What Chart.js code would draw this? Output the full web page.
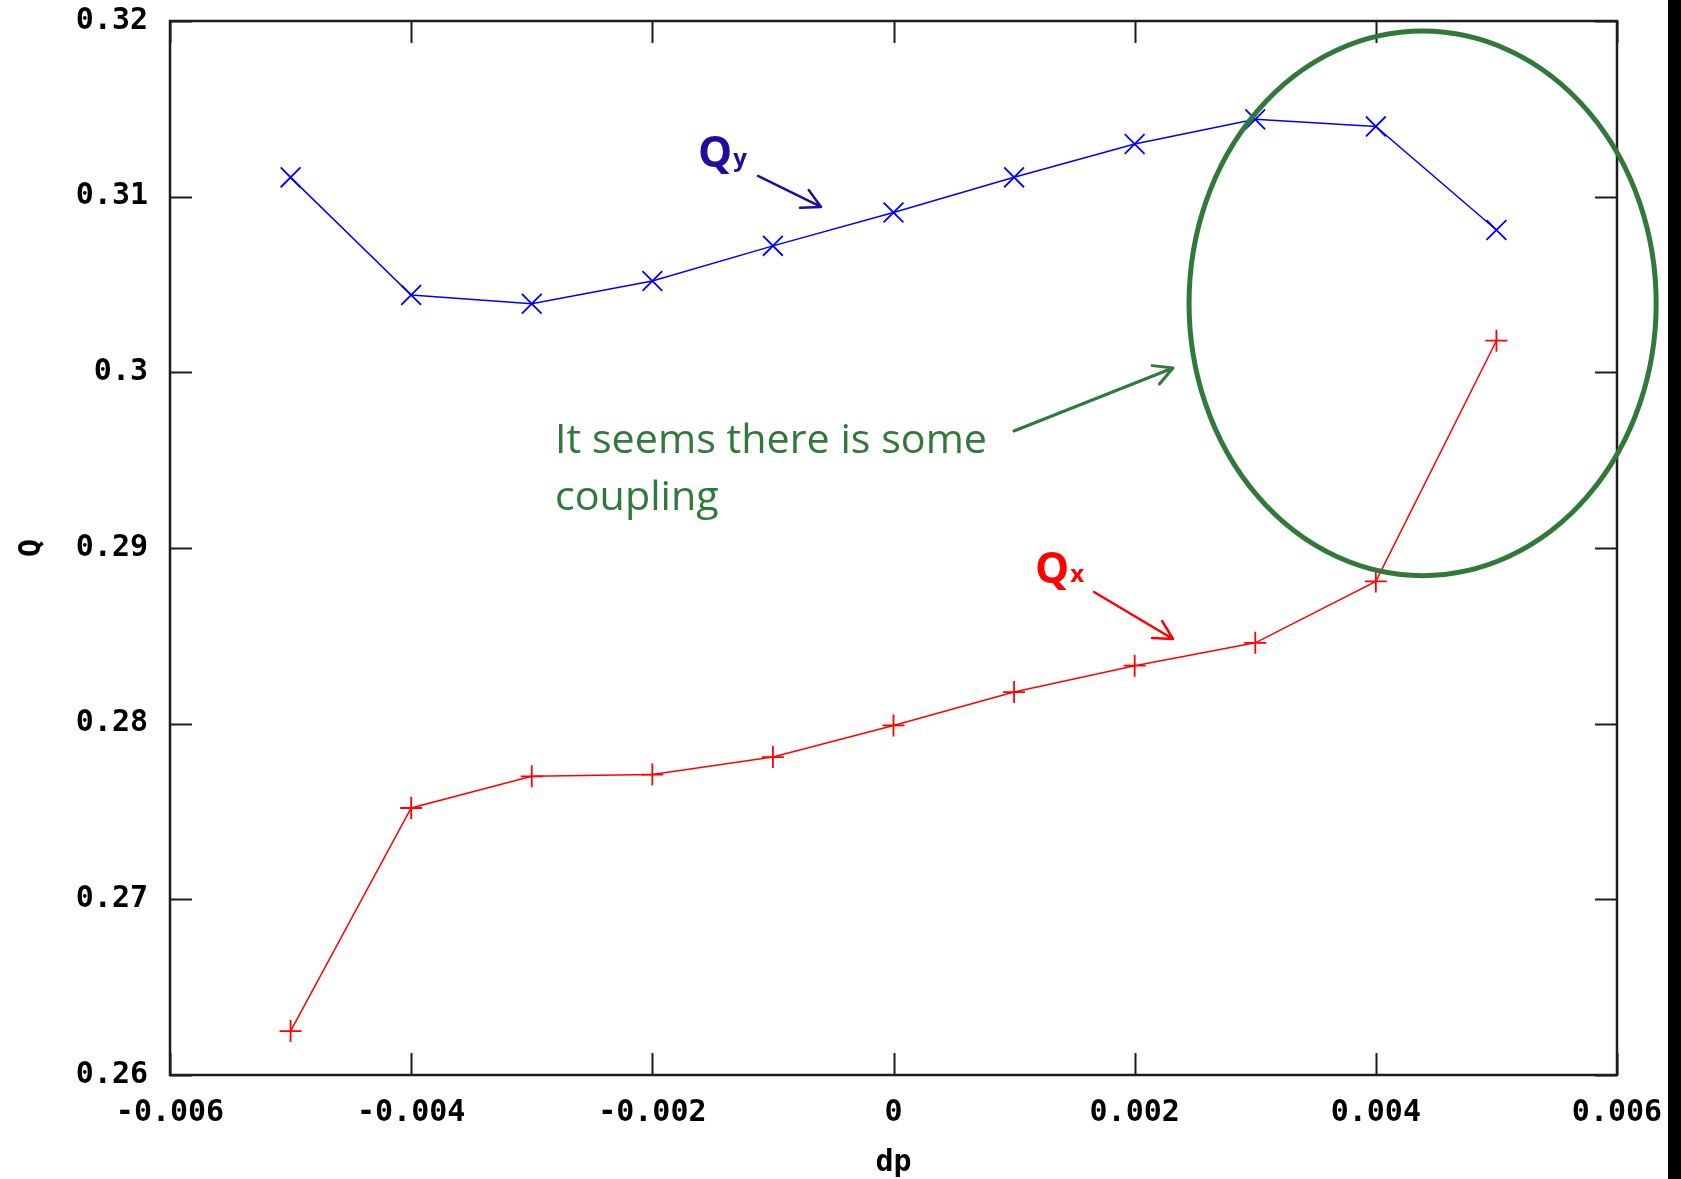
<!DOCTYPE html>
<html>
<head>
<meta charset="utf-8">
<script src="https://cdn.jsdelivr.net/npm/chart.js@4.4.0/dist/chart.umd.min.js"></script>
<style>
  html, body { margin: 0; padding: 0; background: #fff; overflow: hidden; }
  #wrap { position: relative; width: 1681px; height: 1179px; }
  #edge { position: absolute; left: 1668px; top: 0; width: 13px; height: 1179px; background: #000; }
</style>
</head>
<body>
<div id="wrap">
  <canvas id="chart-q" width="1681" height="1179"></canvas>
  <div id="edge"></div>
</div>
<script>
// dp offsets and the measured tunes
var dpValues = [-0.005, -0.004, -0.003, -0.002, -0.001, 0, 0.001, 0.002, 0.003, 0.004, 0.005];
var qxValues = [0.2625, 0.2752, 0.2770, 0.2771, 0.2781, 0.2799, 0.2818, 0.2833, 0.2846, 0.2881, 0.3018];
var qyValues = [0.3111, 0.3044, 0.3039, 0.3052, 0.3072, 0.3091, 0.3111, 0.3130, 0.3144, 0.3140, 0.3081];

var xTickValues = [-0.006, -0.004, -0.002, 0, 0.002, 0.004, 0.006];
var xTickLabels = ['-0.006', '-0.004', '-0.002', '0', '0.002', '0.004', '0.006'];
var yTickValues = [0.26, 0.27, 0.28, 0.29, 0.30, 0.31, 0.32];
var yTickLabels = ['0.26', '0.27', '0.28', '0.29', '0.3', '0.31', '0.32'];

var tickFont = { family: 'DejaVu Sans Mono', weight: 'bold', size: 30 };
var frameColor = '#1c1c1c';
var noteGreen = '#31793a';
var noteBlue = '#1e0e9c';
var noteRed = '#ff0000';

function toPoints(xs, ys) {
  var pts = [];
  for (var i = 0; i < xs.length; i++) pts.push({ x: xs[i], y: ys[i] });
  return pts;
}

function arrow(ctx, x0, y0, x1, y1, color, width) {
  var ang = Math.atan2(y1 - y0, x1 - x0);
  var head = 21, spread = 0.49;
  ctx.save();
  ctx.strokeStyle = color;
  ctx.lineWidth = width;
  ctx.lineCap = 'round';
  ctx.lineJoin = 'round';
  ctx.beginPath();
  ctx.moveTo(x0, y0);
  ctx.lineTo(x1, y1);
  ctx.moveTo(x1 - head * Math.cos(ang - spread), y1 - head * Math.sin(ang - spread));
  ctx.lineTo(x1, y1);
  ctx.lineTo(x1 - head * Math.cos(ang + spread), y1 - head * Math.sin(ang + spread));
  ctx.stroke();
  ctx.restore();
}

function tuneLabel(ctx, x, y, sub, color) {
  ctx.save();
  ctx.fillStyle = color;
  ctx.textBaseline = 'alphabetic';
  ctx.textAlign = 'left';
  ctx.font = 'bold 43px "Open Sans"';
  ctx.fillText('Q', x, y);
  var w = ctx.measureText('Q').width;
  ctx.font = 'bold 24px "Open Sans"';
  ctx.fillText(sub, x + w + 1, y - 1);
  ctx.restore();
}

// border and inward ticks on all four sides, gnuplot style
var framePlugin = {
  id: 'frame',
  beforeDatasetsDraw: function(chart) {
    var ctx = chart.ctx;
    var a = chart.chartArea;
    var xs = chart.scales.x, ys = chart.scales.y;
    var tl = 22;
    ctx.save();
    ctx.strokeStyle = frameColor;
    ctx.lineWidth = 2;
    ctx.beginPath();
    xTickValues.forEach(function(v) {
      var px = Math.round(xs.getPixelForValue(v)) + 0.5;
      ctx.moveTo(px, a.bottom); ctx.lineTo(px, a.bottom - tl);
      ctx.moveTo(px, a.top); ctx.lineTo(px, a.top + tl);
    });
    yTickValues.forEach(function(v) {
      var py = Math.round(ys.getPixelForValue(v)) + 0.5;
      ctx.moveTo(a.left, py); ctx.lineTo(a.left + tl, py);
      ctx.moveTo(a.right, py); ctx.lineTo(a.right - tl, py);
    });
    ctx.stroke();
    ctx.lineWidth = 2.5;
    ctx.strokeRect(a.left, a.top, a.right - a.left, a.bottom - a.top);
    ctx.restore();
  }
};

// hand-drawn annotations, anchored in data units
var notesPlugin = {
  id: 'notes',
  afterDraw: function(chart) {
    var ctx = chart.ctx;
    var xs = chart.scales.x, ys = chart.scales.y;
    function px(v) { return xs.getPixelForValue(v); }
    function py(v) { return ys.getPixelForValue(v); }

    tuneLabel(ctx, px(-0.001621), py(0.311689), 'y', noteBlue);
    arrow(ctx, px(-0.001124), py(0.311177), px(-0.000601), py(0.309412), noteBlue, 2.5);

    tuneLabel(ctx, px(0.001173), py(0.288008), 'x', noteRed);
    arrow(ctx, px(0.001663), py(0.287496), px(0.002318), py(0.28482), noteRed, 2.5);

    // comment text
    ctx.save();
    ctx.fillStyle = noteGreen;
    ctx.font = '41px "Open Sans"';
    ctx.textBaseline = 'alphabetic';
    var tx = px(-0.002807), ty = py(0.295408);
    var line1 = 'It seems there is some';
    var sx = 432 / ctx.measureText(line1).width;
    ctx.translate(tx, ty);
    ctx.scale(sx, 1);
    ctx.fillText(line1, 0, 0);
    ctx.fillText('coupling', 0, 57);
    ctx.restore();

    arrow(ctx, px(0.000999), py(0.296661), px(0.002318), py(0.300247), noteGreen, 3);

    // ellipse round the coupled region
    var cx = px(0.004388), cy = py(0.303925);
    var rx = px(0.004388 + 0.001937) - cx;
    var ry = py(0.303925 - 0.0155) - cy;
    ctx.save();
    ctx.strokeStyle = noteGreen;
    ctx.lineWidth = 5;
    ctx.beginPath();
    ctx.ellipse(cx, cy, rx, ry, 0, 0, Math.PI * 2);
    ctx.stroke();
    ctx.restore();
  }
};

var ctx = document.getElementById('chart-q').getContext('2d');
var chart = new Chart(ctx, {
  type: 'scatter',
  data: {
    datasets: [{
      label: 'Qy',
      data: toPoints(dpValues, qyValues),
      showLine: true,
      borderColor: '#0000ff',
      backgroundColor: '#0000ff',
      borderWidth: 1.5,
      pointStyle: 'crossRot',
      pointRadius: 14,
      pointBorderWidth: 1.8,
      pointBorderColor: '#0000ff'
    }, {
      label: 'Qx',
      data: toPoints(dpValues, qxValues),
      showLine: true,
      borderColor: '#ff0000',
      backgroundColor: '#ff0000',
      borderWidth: 1.5,
      pointStyle: 'cross',
      pointRadius: 11,
      pointBorderWidth: 1.8,
      pointBorderColor: '#ff0000'
    }]
  },
  options: {
    responsive: false,
    animation: false,
    devicePixelRatio: 1,
    layout: { padding: { top: 21, right: 64, left: 0, bottom: 0 } },
    plugins: { legend: { display: false }, tooltip: { enabled: false } },
    scales: {
      x: {
        type: 'linear',
        min: -0.006,
        max: 0.006,
        afterBuildTicks: function(scale) {
          scale.ticks = xTickValues.map(function(v) { return { value: v }; });
        },
        afterFit: function(scale) {
          scale.height = 104;
          scale.paddingLeft = 0;
          scale.paddingRight = 0;
        },
        grid: { display: false, drawTicks: false },
        border: { display: false },
        ticks: {
          padding: 20,
          color: '#000',
          font: tickFont,
          maxRotation: 0,
          autoSkip: false,
          callback: function(v, i) { return xTickLabels[i]; }
        },
        title: {
          display: true,
          text: 'dp',
          color: '#000',
          font: tickFont,
          padding: { top: 0, bottom: -2 }
        }
      },
      y: {
        type: 'linear',
        min: 0.26,
        max: 0.32,
        afterBuildTicks: function(scale) {
          scale.ticks = yTickValues.map(function(v) { return { value: v }; });
        },
        afterFit: function(scale) {
          scale.width = 170;
          scale.paddingTop = 0;
          scale.paddingBottom = 0;
        },
        grid: { display: false, drawTicks: false },
        border: { display: false },
        ticks: {
          padding: 22,
          color: '#000',
          font: tickFont,
          autoSkip: false,
          callback: function(v, i) { return yTickLabels[i]; }
        },
        title: {
          display: true,
          text: 'Q',
          color: '#000',
          font: tickFont,
          padding: { top: 14, bottom: 0 }
        }
      }
    }
  },
  plugins: [framePlugin, notesPlugin]
});
</script>
</body>
</html>
